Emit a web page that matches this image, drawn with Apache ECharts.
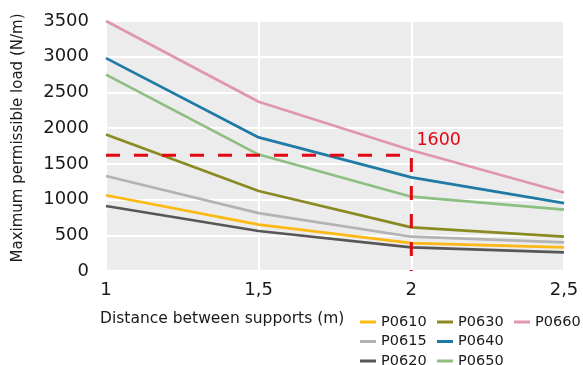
<!DOCTYPE html>
<html><head><meta charset="utf-8">
<script src="https://cdn.jsdelivr.net/npm/echarts@6/dist/echarts.min.js"></script>
<style>html,body{margin:0;padding:0;background:#fff}#c{width:583px;height:365px}</style>
</head><body><div id="c"></div>
<script>
const distances = [1, 1.5, 2, 2.5];
const P0610 = [1060, 650, 390, 330];
const P0615 = [1330, 810, 480, 400];
const P0620 = [910, 560, 330, 260];
const P0630 = [1910, 1120, 610, 480];
const P0640 = [2980, 1870, 1310, 950];
const P0650 = [2750, 1630, 1040, 860];
const P0660 = [3500, 2370, 1690, 1100];
const refLine = [[1, 1620], [2, 1620], [2, 0]];
const refLabel = '1600';
const yTicks = [0, 500, 1000, 1500, 2000, 2500, 3000, 3500];

const FONT = 'DejaVu Sans';
const seriesDefs = [
  ['P0610', P0610, '#fdb913'],
  ['P0615', P0615, '#b3b3b3'],
  ['P0620', P0620, '#575756'],
  ['P0630', P0630, '#8a8a22'],
  ['P0640', P0640, '#1f7aa6'],
  ['P0650', P0650, '#8dbe82'],
  ['P0660', P0660, '#e096ae']
];
const series = seriesDefs.map(([name, vals, color]) => ({
  name, type: 'line', data: distances.map((d, i) => [d, vals[i]]),
  showSymbol: false, symbol: 'none', lineStyle: {width: 2.7, color}, itemStyle: {color},
  emphasis: {disabled: true}, z: 3
}));
series.push({
  name: 'ref', type: 'line', z: 4,
  data: refLine.map((p, i) => i === 1 ? {value: p, label: {show: true, formatter: refLabel, position: 'right', offset: [0, -15], color: '#e30613', fontSize: 17.5, fontFamily: FONT}} : {value: p}),
  symbol: 'circle', symbolSize: 0.1, showSymbol: true,
  lineStyle: {color: '#e30613', width: 3, type: [14, 14]}, itemStyle: {color: '#e30613'},
  label: {show: false}, emphasis: {disabled: true}
});
const legendCommon = {orient: 'vertical', itemWidth: 16, itemHeight: 3, itemGap: 4.5, icon: 'rect', height: 70,
  textStyle: {fontFamily: FONT, fontSize: 14.5, color: '#1a1a1a', lineHeight: 14}, padding: 0};
const chart = echarts.init(document.getElementById('c'));
chart.setOption({
  animation: false,
  grid: {left: 106, right: 19, top: 21, bottom: 94, show: true, backgroundColor: '#ececec', borderWidth: 0},
  xAxis: {type: 'value', min: 1, max: 2.5, interval: 0.5,
    axisLine: {show: false}, axisTick: {show: false},
    splitLine: {show: true, lineStyle: {color: '#ffffff', width: 2}},
    axisLabel: {fontFamily: FONT, fontSize: 18, color: '#1a1a1a', margin: 10, formatter: v => String(v).replace('.', ',')}},
  yAxis: {type: 'value', min: yTicks[0], max: yTicks[yTicks.length - 1], interval: 500,
    axisLine: {show: false}, axisTick: {show: false},
    splitLine: {show: true, lineStyle: {color: '#ffffff', width: 2}},
    axisLabel: {fontFamily: FONT, fontSize: 18, color: '#1a1a1a', margin: 17, formatter: v => String(v)},
    name: 'Maximum permissible load (N/m)', nameLocation: 'middle', nameGap: 80,
    nameTextStyle: {fontFamily: FONT, fontSize: 15, color: '#1a1a1a', padding: [0, 0, 0, 16]}},
  legend: [
    Object.assign({left: 360, top: 314.5, data: ['P0610', 'P0615', 'P0620']}, legendCommon),
    Object.assign({left: 437, top: 314.5, data: ['P0630', 'P0640', 'P0650']}, legendCommon),
    Object.assign({left: 514, top: 314.5, data: ['P0660']}, legendCommon)
  ],
  graphic: [{type: 'text', left: 100, top: 311, style: {text: 'Distance between supports (m)', font: '15.5px "DejaVu Sans"', fill: '#1a1a1a'}}],
  series
});
</script></body></html>
